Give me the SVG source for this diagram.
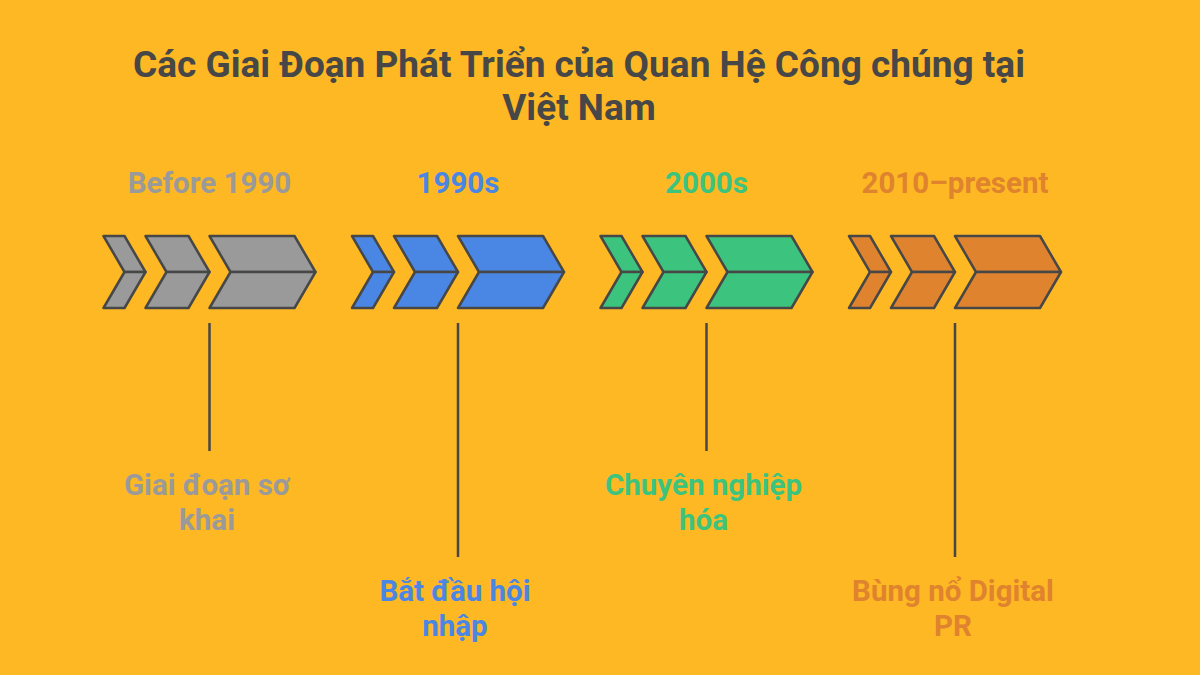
<svg xmlns="http://www.w3.org/2000/svg" xmlns:xlink="http://www.w3.org/1999/xlink" width="1200" height="675" viewBox="0 0 1200 675">
  <style>
    text { font-family: Roboto, "Liberation Sans", "Noto Sans", sans-serif; font-weight: bold; text-anchor: middle; }
    .title { font-size: 37px; fill: #474747; }
    .year { font-size: 29.5px; }
    .lbl { font-size: 29.5px; }
    .chev path { stroke: #474747; stroke-width: 2.5; stroke-linejoin: round; }
    .conn line { stroke: #474747; stroke-width: 2.5; }
    .grey { fill: #9a9a9a; }
    .blue { fill: #4a86e4; }
    .green { fill: #3cc47f; }
    .orange { fill: #e0832f; }
  </style>
  <defs>
    <g id="chev" class="chev">
      <path d="M0,236 L21,236 L42,272 L21,272 Z"/>
      <path d="M21,272 L42,272 L21,308 L0,308 Z"/>
      <path d="M42,236 L85,236 L106,272 L63,272 Z"/>
      <path d="M63,272 L106,272 L85,308 L42,308 Z"/>
      <path d="M106,236 L191,236 L212,272 L127,272 Z"/>
      <path d="M127,272 L212,272 L191,308 L106,308 Z"/>
    </g>
  </defs>
  <rect width="1200" height="675" fill="#fdb824"/>

  <g id="title">
    <text class="title" x="579" y="77">Các Giai Đoạn Phát Triển của Quan Hệ Công chúng tại</text>
    <text class="title" x="579" y="120">Việt Nam</text>
  </g>

  <g id="connectors" class="conn">
    <line x1="209.5" y1="323" x2="209.5" y2="451"/>
    <line x1="458" y1="323" x2="458" y2="557"/>
    <line x1="706.5" y1="323" x2="706.5" y2="451"/>
    <line x1="955" y1="323" x2="955" y2="557"/>
  </g>

  <g id="node-before-1990">
    <text class="year grey" x="209.5" y="193">Before 1990</text>
    <use xlink:href="#chev" href="#chev" x="103.5" class="grey"/>
    <text class="lbl grey" x="207" y="495">Giai đoạn sơ</text>
    <text class="lbl grey" x="207" y="530">khai</text>
  </g>

  <g id="node-1990s">
    <text class="year blue" x="458" y="193">1990s</text>
    <use xlink:href="#chev" href="#chev" x="352" class="blue"/>
    <text class="lbl blue" x="455" y="601">Bắt đầu hội</text>
    <text class="lbl blue" x="455" y="636">nhập</text>
  </g>

  <g id="node-2000s">
    <text class="year green" x="706.5" y="193">2000s</text>
    <use xlink:href="#chev" href="#chev" x="600.5" class="green"/>
    <text class="lbl green" x="703.5" y="495">Chuyên nghiệp</text>
    <text class="lbl green" x="703.5" y="530">hóa</text>
  </g>

  <g id="node-2010-present">
    <text class="year orange" x="955" y="193">2010–present</text>
    <use xlink:href="#chev" href="#chev" x="849" class="orange"/>
    <text class="lbl orange" x="953" y="601">Bùng nổ Digital</text>
    <text class="lbl orange" x="953" y="636">PR</text>
  </g>
</svg>
